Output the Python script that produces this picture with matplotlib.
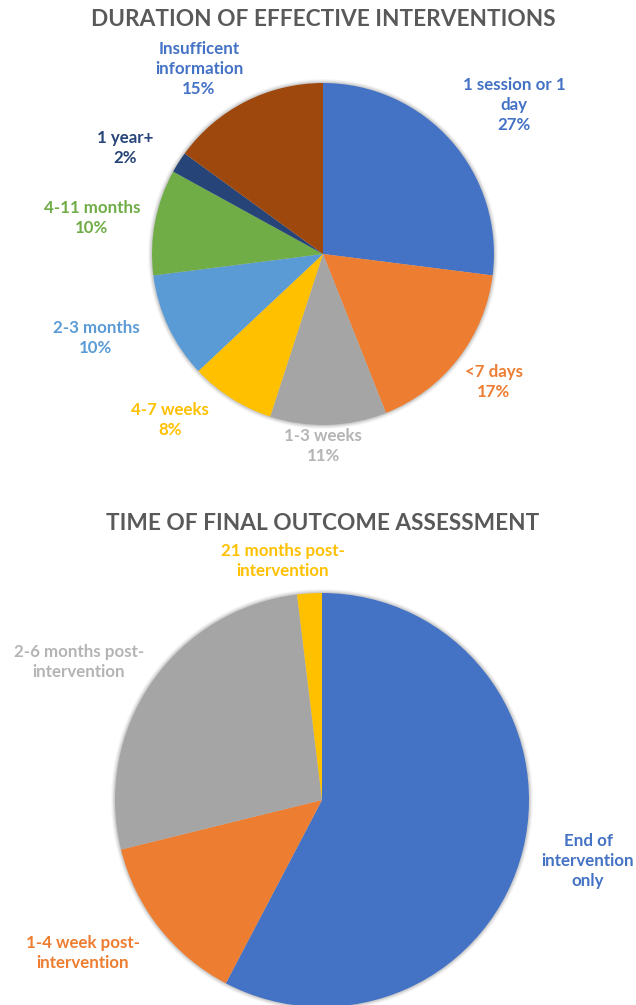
import matplotlib.pyplot as plt
from matplotlib.patches import Circle

# Duration of effective interventions (percent)
durationLabels = ["1 session or 1\nday", "<7 days", "1-3 weeks", "4-7 weeks",
                  "2-3 months", "4-11 months", "1 year+", "Insufficent\ninformation"]
durationValues = [27, 17, 11, 8, 10, 10, 2, 15]
durationColors = ["#4472C4", "#ED7D31", "#A5A5A5", "#FFC000",
                  "#5B9BD5", "#70AD47", "#264478", "#9E480E"]

# Time of final outcome assessment (number of studies)
outcomeLabels = ["End of\nintervention\nonly", "1-4 week post-\nintervention",
                 "2-6 months post-\nintervention", "21 months post-\nintervention"]
outcomeValues = [30, 7, 14, 1]
outcomeColors = ["#4472C4", "#ED7D31", "#A5A5A5", "#FFC000"]

W, H = 636, 1005
fig = plt.figure(figsize=(W / 100, H / 100), dpi=100)
ax = fig.add_axes([0, 0, 1, 1])
ax.axis("off")

font = ["Lato", "DejaVu Sans"]

def drawPie(values, colors, cx, cy, r):
    # soft shadow round the pie
    for k, a in [(4, 0.08), (3, 0.12), (2, 0.18), (1, 0.25)]:
        ax.add_patch(Circle((cx, H - cy), r + k, color="#9a9a9a", alpha=a, lw=0, zorder=1))
    ax.pie(values, colors=colors, center=(cx, H - cy), radius=r, startangle=90,
           counterclock=False, wedgeprops=dict(linewidth=0, zorder=2), frame=True)

def label(text, x, y, color, size=12.2):
    ax.text(x, H - y, text, ha="center", va="center", color=color, fontsize=size,
            fontweight="bold", family=font, linespacing=1.32, zorder=3)

def title(text, y):
    ax.text(323, H - y, text, ha="center", va="center", color="#595959",
            fontsize=16.3, fontweight="bold", family=font)

drawPie(durationValues, durationColors, 323, 254, 171)
title("DURATION OF EFFECTIVE INTERVENTIONS", 19)

durationPct = [f"{v}%" for v in durationValues]
durationPos = [(514, 105), (494, 382), (323, 446), (170, 420),
               (96, 338), (92, 218), (125, 148), (199, 69)]
durationTextColors = ["#4472C4", "#ED7D31", "#B4B4B4", "#FFC000",
                      "#5B9BD5", "#70AD47", "#264478", "#4472C4"]
for name, pct, (x, y), c in zip(durationLabels, durationPct, durationPos, durationTextColors):
    label(name + "\n" + pct, x, y, c)

drawPie(outcomeValues, outcomeColors, 322, 800, 207)
title("TIME OF FINAL OUTCOME ASSESSMENT", 523)

outcomePos = [(588, 861), (83, 953), (79, 662), (283, 561)]
outcomeTextColors = ["#4472C4", "#ED7D31", "#B4B4B4", "#FFC000"]
for name, (x, y), c in zip(outcomeLabels, outcomePos, outcomeTextColors):
    label(name, x, y, c)

ax.set_xlim(0, W)
ax.set_ylim(0, H)
ax.set_aspect("equal")

fig.savefig("out.png", dpi=100, facecolor="white")
